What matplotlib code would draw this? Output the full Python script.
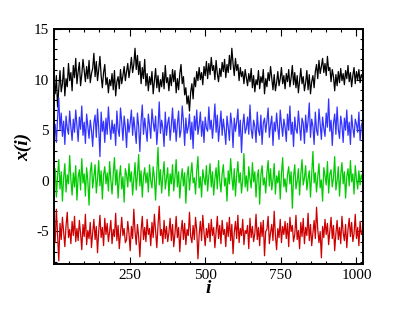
import numpy as np
import matplotlib
matplotlib.use("Agg")
import matplotlib.pyplot as plt
from matplotlib.ticker import MultipleLocator

# sample index (every 4th step of the series)
step = 4

black = [9.8, 8.6, 10.4, 7.3, 9.1, 10.9, 8.8, 9.6, 11.2, 8.4, 10.1, 9.3, 11.6, 9.9, 10.7, 8.9,
         11.4, 10.2, 12.1, 9.6, 10.8, 11.7, 9.4, 10.5, 12.0, 10.9, 9.8, 11.3, 10.1, 11.9, 9.7, 10.6,
         11.1, 12.6, 10.3, 11.8, 9.9, 11.0, 12.3, 10.4, 9.2, 10.7, 11.5, 9.5, 10.2, 8.7, 10.0, 9.4,
         10.6, 9.0, 10.9, 8.4, 9.8, 10.3, 9.1, 11.0, 9.6, 10.4, 11.3, 9.9, 10.8, 11.6, 10.2, 11.1,
         12.2, 10.7, 11.5, 13.1, 11.0, 12.4, 10.5, 11.8, 9.6, 11.2, 10.1, 12.0, 9.4, 10.6, 8.9, 10.3,
         9.5, 10.8, 8.6, 9.9, 11.1, 9.2, 10.4, 8.8, 10.0, 9.3, 10.7, 9.1, 11.4, 9.7, 10.2, 8.9,
         10.5, 9.4, 11.0, 9.8, 10.9, 8.7, 10.1, 9.0, 10.6, 11.5, 9.6, 10.3, 8.5, 9.2, 7.6, 8.4,
         6.9, 8.8, 9.6, 8.1, 10.2, 9.3, 10.8, 9.9, 11.2, 10.0, 10.7, 9.5, 11.3, 10.4, 11.8, 10.1,
         11.6, 10.5, 12.2, 10.9, 11.4, 10.0, 11.9, 10.6, 9.8, 11.1, 10.3, 11.7, 10.8, 12.0, 10.2, 11.5,
         10.7, 12.4, 11.0, 13.1, 11.6, 10.4, 12.1, 10.9, 11.5, 9.9, 11.2, 10.3, 10.8, 9.6, 11.0, 10.2,
         9.4, 10.6, 9.8, 11.1, 9.2, 10.4, 8.8, 10.0, 9.5, 10.9, 9.1, 10.3, 9.7, 11.0, 8.6, 10.1,
         9.3, 10.7, 9.9, 11.3, 10.2, 9.0, 10.5, 8.9, 9.7, 10.8, 9.4, 10.1, 11.2, 9.6, 10.4, 9.1,
         10.6, 9.8, 11.0, 9.3, 10.2, 11.4, 9.5, 10.7, 9.2, 10.4, 8.7, 9.9, 11.1, 9.6, 10.3, 8.9,
         9.7, 10.9, 9.0, 10.5, 8.6, 9.8, 10.4, 9.2, 10.8, 11.5, 10.1, 11.9, 10.6, 11.3, 12.1, 10.7,
         11.6, 10.4, 12.3, 10.9, 11.2, 9.8, 11.0, 10.3, 8.9, 10.5, 9.4, 10.8, 9.7, 11.1, 9.9, 10.6,
         9.5, 10.9, 10.1, 11.4, 9.8, 10.7, 9.3, 10.4, 11.2, 9.6, 10.8, 10.0, 11.0, 9.7, 10.5, 10.2]

blue = [4.1, 5.6, 3.8, 6.2, 8.2, 5.0, 6.7, 4.4, 5.9, 3.6, 6.4, 5.2, 4.6, 6.9, 5.3, 4.0,
        6.1, 4.8, 7.0, 5.5, 3.9, 6.3, 5.1, 7.4, 4.5, 5.8, 3.7, 6.6, 5.4, 4.2, 6.0, 5.0,
        3.4, 5.7, 6.5, 4.3, 7.1, 5.2, 2.4, 6.8, 4.9, 5.9, 3.8, 6.2, 4.6, 7.3, 5.4, 4.1,
        6.0, 4.7, 5.6, 3.5, 6.9, 5.1, 4.4, 7.2, 5.8, 4.0, 6.4, 5.3, 3.3, 6.1, 4.8, 5.7,
        7.0, 4.5, 6.3, 5.0, 3.7, 6.7, 5.4, 2.9, 5.9, 7.5, 4.6, 6.2, 5.1, 3.9, 6.6, 5.5,
        4.2, 7.1, 5.8, 4.9, 6.4, 3.6, 5.3, 7.8, 4.7, 6.0, 5.2, 3.4, 6.8, 4.5, 5.7, 6.3,
        4.0, 5.5, 7.2, 4.8, 6.1, 3.9, 5.6, 6.9, 4.3, 5.0, 7.4, 5.9, 3.5, 6.2, 4.7, 5.3,
        6.6, 4.1, 5.8, 3.2, 6.4, 5.0, 7.0, 4.6, 5.5, 6.8, 4.4, 5.9, 3.8, 6.3, 5.2, 4.9,
        7.3, 5.1, 6.0, 4.2, 5.7, 7.6, 4.8, 6.5, 3.9, 5.4, 6.9, 4.5, 6.1, 5.0, 3.6, 6.4,
        5.3, 4.0, 6.7, 5.6, 3.3, 6.2, 4.9, 5.8, 7.1, 4.4, 6.0, 2.8, 5.5, 6.6, 4.7, 5.2,
        6.3, 4.6, 7.5, 5.1, 4.2, 6.0, 5.4, 3.8, 6.8, 5.0, 4.5, 6.5, 3.6, 5.7, 6.2, 4.8,
        5.9, 7.2, 4.3, 5.5, 6.4, 3.5, 5.8, 4.9, 6.7, 5.2, 4.1, 7.0, 5.6, 4.4, 6.1, 5.3,
        3.9, 6.6, 5.0, 7.4, 4.6, 5.8, 3.4, 6.3, 5.1, 4.7, 6.9, 5.5, 4.0, 6.2, 5.7, 3.7,
        6.5, 4.8, 5.9, 7.7, 4.3, 6.1, 5.4, 3.6, 6.8, 5.0, 4.5, 7.1, 5.6, 4.1, 6.3, 5.2,
        4.4, 6.7, 5.3, 8.1, 4.9, 6.0, 3.5, 5.7, 6.6, 4.6, 7.3, 5.1, 4.2, 6.4, 5.5, 3.8,
        6.2, 5.0, 7.0, 4.5, 5.8, 3.6, 6.5, 5.2, 4.3, 6.1, 5.6, 4.8, 6.8, 4.0, 5.4, 5.9]

green = [-0.4, 1.2, -1.6, 0.5, 2.1, -0.8, 0.9, -2.0, 0.3, 1.7, -1.1, 0.6, -0.3, 2.5, 0.1, -1.4,
         0.8, -0.6, 1.5, -1.9, 0.4, 1.1, -0.9, 2.2, -0.2, 0.7, -1.5, 1.3, 0.0, -2.4, 0.9, 1.8,
         -0.7, 0.5, 1.6, -1.2, 0.2, 2.0, -0.5, 1.0, -1.8, 0.6, 1.4, -0.3, 0.8, -1.0, 1.9, 0.1,
         -1.3, 0.7, 2.3, -0.4, 1.1, -1.7, 0.3, 1.5, -0.8, 0.4, -2.1, 1.2, 0.6, -0.6, 1.7, -0.1,
         0.9, -1.4, 0.2, 1.8, -0.9, 0.6, 2.6, -0.5, 1.0, -1.6, 0.4, 1.3, -0.2, 0.8, -1.1, 1.6,
         0.0, -0.7, 1.4, 0.3, -1.9, 0.9, 3.3, -0.4, 1.1, -1.2, 0.5, 1.9, -0.8, 0.2, 1.3, -1.5,
         0.7, -0.3, 1.6, -1.0, 0.4, 2.1, -0.6, 0.9, -1.7, 0.1, 1.2, -0.5, 0.8, -2.2, 0.5, 1.4,
         -0.9, 0.6, 1.8, -0.2, 0.3, -1.3, 1.0, 2.4, -0.7, 0.4, -1.6, 1.1, 0.2, -0.4, 1.5, -1.0,
         0.5, 1.7, -0.6, 0.9, -1.4, 0.2, 1.3, -0.8, 2.0, 0.0, -1.1, 0.7, 1.6, -0.5, 0.3, -2.0,
         1.0, -0.3, 2.2, 0.4, -0.9, 1.2, -1.5, 0.6, 1.9, -0.2, 0.8, -1.2, 0.1, 2.7, -0.6, 0.5,
         -1.0, 1.4, 0.2, -0.7, 1.8, -0.1, 0.9, -1.6, 0.4, 1.1, -2.3, 0.6, 1.5, -0.4, 0.3, -1.2,
         0.8, 2.0, -0.5, 1.2, -0.9, 0.1, 1.7, -1.3, 0.5, -0.2, 1.0, -1.8, 0.7, 2.3, -0.6, 0.2,
         -1.1, 0.6, 1.4, -0.3, 0.9, -2.7, 0.4, 1.6, -0.8, 0.0, 1.2, -1.4, 0.7, 2.1, -0.4, 0.3,
         1.5, -0.9, 0.2, 1.0, -1.6, 0.6, 2.9, -0.2, 0.8, -1.1, 0.4, 1.7, -0.7, 0.1, -2.0, 1.3,
         0.5, -0.4, 1.9, -1.2, 0.7, 1.1, -0.6, 0.3, 2.4, -0.9, 0.0, 1.4, -1.5, 0.6, 1.8, -0.3,
         0.9, -1.7, 0.4, 1.2, -0.5, 2.0, -0.1, 0.7, -1.3, 1.5, 0.2, -0.8, 1.0, -0.4, 0.6, 0.1]

red = [-4.6, -6.1, -2.8, -5.3, -7.9, -4.2, -5.8, -3.6, -5.0, -6.5, -4.4, -3.1, -5.6, -4.8, -6.2, -4.0,
       -5.4, -3.5, -6.0, -4.7, -5.9, -3.9, -5.2, -6.8, -4.3, -5.5, -3.3, -6.3, -4.9, -5.7, -4.1, -6.6,
       -5.1, -3.8, -5.8, -4.5, -7.1, -5.0, -3.4, -5.6, -4.6, -6.4, -3.7, -5.3, -4.2, -6.0, -5.0, -3.9,
       -6.2, -4.8, -5.5, -3.2, -5.9, -4.4, -6.7, -5.1, -3.6, -5.4, -4.7, -6.1, -5.8, -4.0, -5.2, -6.9,
       -4.5, -5.7, -2.8, -5.0, -6.3, -4.3, -5.5, -7.5, -4.9, -3.5, -5.8, -4.6, -6.0, -3.8, -5.3, -4.7,
       -6.4, -4.1, -5.6, -3.3, -5.0, -6.6, -4.4, -2.5, -5.4, -4.8, -6.2, -3.9, -5.7, -4.5, -6.0, -5.1,
       -3.7, -5.9, -4.3, -6.5, -5.2, -3.5, -5.6, -4.6, -7.0, -5.0, -3.9, -5.8, -4.2, -6.3, -4.8, -5.4,
       -3.1, -5.5, -6.1, -4.4, -5.8, -3.6, -4.9, -7.7, -5.3, -4.0, -5.9, -3.4, -5.1, -6.4, -4.7, -5.6,
       -4.2, -6.0, -3.8, -5.4, -4.6, -6.6, -5.0, -3.5, -5.7, -4.4, -6.2, -3.9, -5.3, -4.8, -6.5, -4.1,
       -5.5, -3.6, -5.9, -4.3, -7.2, -5.1, -4.0, -5.7, -3.4, -6.1, -4.7, -5.4, -3.8, -6.3, -4.9, -5.2,
       -4.4, -6.7, -3.7, -5.6, -4.5, -6.0, -5.2, -3.3, -5.8, -4.6, -6.4, -4.1, -5.5, -3.9, -7.4, -5.0,
       -4.8, -3.5, -6.2, -5.1, -4.3, -5.9, -3.0, -5.4, -6.8, -4.7, -5.6, -3.8, -6.1, -4.5, -5.3, -4.0,
       -5.7, -4.2, -6.5, -3.6, -5.0, -4.4, -6.0, -5.3, -3.4, -5.8, -4.9, -6.7, -4.1, -5.5, -3.7, -6.2,
       -4.6, -5.4, -3.2, -5.9, -4.3, -6.4, -5.1, -3.9, -5.7, -2.6, -4.8, -6.1, -5.0, -7.6, -4.5, -5.6,
       -3.8, -5.3, -4.2, -6.3, -5.0, -3.6, -5.7, -4.4, -6.9, -5.2, -3.9, -5.8, -4.6, -6.2, -3.5, -5.1,
       -5.9, -4.3, -6.6, -4.8, -3.7, -5.5, -4.1, -6.0, -5.2, -3.3, -5.7, -4.6, -6.4, -4.0, -5.3, -4.9]

series = [(black, "#000000"), (blue, "#3333ff"), (green, "#00cc00"), (red, "#cc0000")]

plt.rcParams["font.family"] = ["Liberation Serif", "DejaVu Serif"]
plt.rcParams["axes.unicode_minus"] = False

fig = plt.figure(figsize=(4.15, 3.09), dpi=100)
ax = fig.add_axes([0.130, 0.146, 0.745, 0.760])

for vals, col in series:
    idx = np.arange(len(vals)) * step
    ax.plot(idx, vals, color=col, lw=0.9)

ax.set_xlim(0, 1022)
ax.set_ylim(-8.2, 15)
ax.set_xticks([250, 500, 750, 1000])
ax.set_yticks([-5, 0, 5, 10, 15])
ax.xaxis.set_minor_locator(MultipleLocator(50))
ax.yaxis.set_minor_locator(MultipleLocator(1))
ax.tick_params(which="both", direction="in", top=True, right=True, labelsize=11, width=0.8)
ax.tick_params(which="major", length=5)
ax.tick_params(which="minor", length=2.5)
for sp in ax.spines.values():
    sp.set_linewidth(1.4)

ax.set_xlabel("i", fontsize=14, fontweight="bold", fontstyle="italic", labelpad=-1)
ax.set_ylabel("x(i)", fontsize=14, fontweight="bold", fontstyle="italic", labelpad=1)

fig.savefig("out.png", dpi=100)
